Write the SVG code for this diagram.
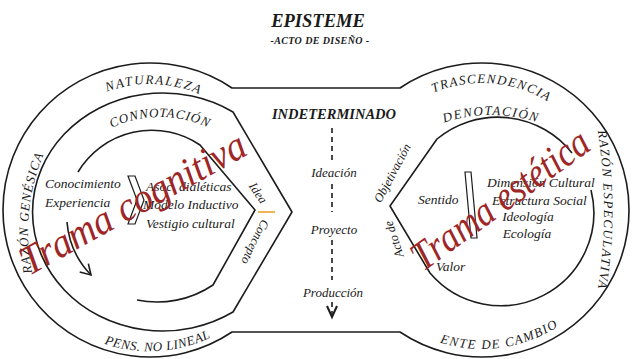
<svg xmlns="http://www.w3.org/2000/svg" width="632" height="359" viewBox="0 0 632 359">
<style>
.ln{fill:none;stroke:#1c1c1c;stroke-width:1.6;stroke-linejoin:round}
.t{font-family:"Liberation Serif","DejaVu Serif",serif;font-style:italic;fill:#1a1a1a}
.cap{font-size:13px}
.body{font-size:13.5px}
.rot{font-size:12.5px;text-anchor:middle}
.mid{font-size:13px;text-anchor:middle}
.red{font-family:"Liberation Serif","DejaVu Serif",serif;font-style:italic;fill:#9e2626;font-size:41px}
.dash{stroke:#1c1c1c;stroke-width:1.6;stroke-dasharray:5 4;fill:none}
</style>
<defs>
<path id="pNat" d="M 24 210 A 126 126 0 0 1 276 210"/>
<path id="pCon" d="M 45 232 A 115 115 0 0 1 275 232"/>
<path id="pGen" d="M 74.8 360.6 A 200 200 0 0 1 74.8 103.4"/>
<path id="pPen" d="M 17.4 258.2 A 141 141 0 0 0 282.6 258.2"/>
<path id="pTra" d="M 355 210 A 127 127 0 0 1 609 210"/>
<path id="pDen" d="M 341 265 A 150 150 0 0 1 641 265"/>
<path id="pEsp" d="M 587 80.6 A 500 500 0 0 1 587 339.4"/>
<path id="pEnt" d="M 351.4 257.5 A 139 139 0 0 0 618.9 234.1"/>
<marker id="arr" markerWidth="14" markerHeight="14" refX="0" refY="0" viewBox="-12 -7 14 14" orient="auto" markerUnits="userSpaceOnUse">
<path d="M -10 -6 L 0 0 L -10 6" fill="none" stroke="#1c1c1c" stroke-width="1.6"/>
</marker>
</defs>
<rect width="632" height="359" fill="#ffffff"/>

<g id="title">
<text class="t" x="318" y="27" font-size="18.5" font-weight="bold" text-anchor="middle">EPISTEME</text>
<text class="t" x="320" y="44" font-size="10" font-weight="bold" letter-spacing="0.4" text-anchor="middle">-ACTO DE DISEÑO -</text>
</g>

<g id="outline">
<path class="ln" d="M 232 88 L 400 88 A 147 147 0 1 1 400 332 L 232 332 A 147 147 0 1 1 232 88 Z"/>
<text class="t cap" letter-spacing="1.7"><textPath href="#pNat" startOffset="51%" text-anchor="middle">NATURALEZA</textPath></text>
<text class="t cap" letter-spacing="1.1"><textPath href="#pGen" startOffset="57%" text-anchor="middle">RAZÓN GENÉSICA</textPath></text>
<text class="t cap" letter-spacing="0.5"><textPath href="#pPen" startOffset="52.4%" text-anchor="middle">PENS. NO LINEAL</textPath></text>
<text class="t cap" letter-spacing="1.4"><textPath href="#pTra" startOffset="52.5%" text-anchor="middle">TRASCENDENCIA</textPath></text>
<text class="t cap" letter-spacing="1.4"><textPath href="#pEsp" startOffset="50%" text-anchor="middle">RAZÓN ESPECULATIVA</textPath></text>
<text class="t cap" letter-spacing="1.4"><textPath href="#pEnt" startOffset="52%" text-anchor="middle">ENTE DE CAMBIO</textPath></text>
</g>

<g id="left-middle">
<path class="ln" d="M 292 212 L 233 112 A 130 119 0 1 0 233 312 Z"/>
<text class="t cap" letter-spacing="0.9"><textPath href="#pCon" startOffset="50%" text-anchor="middle">CONNOTACIÓN</textPath></text>
<text class="t rot" transform="translate(258,193) rotate(56)" y="4">Idea</text>
<line x1="258" y1="212" x2="275" y2="212" stroke="#f0a030" stroke-width="1.6"/>
<text class="t rot" transform="translate(255,242) rotate(116)" y="4">Concepto</text>
</g>

<g id="left-inner">
<path class="ln" d="M 78 172 A 86 86 0 0 1 200 145 L 255 210 L 213 285 A 100 100 0 0 1 137 300"/>
<path class="ln" d="M 67 222 A 86 86 0 0 0 91 275" marker-end="url(#arr)"/>
<path d="M 128 176 L 135 176 L 144 200 L 135 224 L 128 224 L 137 200 Z" fill="#ffffff" stroke="#1c1c1c" stroke-width="1.2"/>
<text class="t body" x="45" y="188">Conocimiento</text>
<text class="t body" x="45" y="207">Experiencia</text>
<text class="t body" x="146" y="191">Asoc. dialéticas</text>
<text class="t body" x="143" y="209">Modelo Inductivo</text>
<text class="t body" x="146" y="228">Vestigio cultural</text>
</g>

<g id="right-inner">
<path class="ln" d="M 591 190 A 93 93 0 0 1 430 273 L 390 206 L 437 139 A 95 95 0 0 1 572 153"/>
<path d="M 465 172 L 471 172 L 477 238 L 471 238 Z" fill="#ffffff" stroke="#1c1c1c" stroke-width="1.2"/>
<text class="t cap" letter-spacing="1.5"><textPath href="#pDen" startOffset="50%" text-anchor="middle">DENOTACIÓN</textPath></text>
<text class="t rot" transform="translate(396,175) rotate(-62)">Objetivación</text>
<text class="t rot" transform="translate(398,238) rotate(-108)">Acto de</text>
<text class="t body" x="418" y="204">Sentido</text>
<text class="t body" x="436" y="271">Valor</text>
<text class="t body" x="487" y="187">Dimensión Cultural</text>
<text class="t body" x="492" y="205">Estructura Social</text>
<text class="t body" x="528" y="221" text-anchor="middle">Ideología</text>
<text class="t body" x="527" y="238" text-anchor="middle">Ecología</text>
</g>

<g id="center-column">
<text class="t" x="334" y="119" font-size="14.5" font-weight="bold" text-anchor="middle">INDETERMINADO</text>
<text class="t mid" x="334" y="177">Ideación</text>
<text class="t mid" x="334" y="234">Proyecto</text>
<text class="t mid" x="333" y="297">Producción</text>
</g>

<g id="connectors">
<line class="dash" x1="332" y1="128" x2="332" y2="160"/>
<line class="dash" x1="332" y1="184" x2="332" y2="212"/>
<line class="dash" x1="332" y1="240" x2="332" y2="280"/>
<line class="dash" x1="332" y1="302" x2="332" y2="314"/>
<path d="M 327 306 L 332 317 L 337 306" fill="none" stroke="#1c1c1c" stroke-width="2"/>
</g>

<g id="red-labels">
<text class="red" transform="translate(29,276) rotate(-29)" textLength="252" lengthAdjust="spacingAndGlyphs">Trama cognitiva</text>
<text class="red" transform="translate(423,272) rotate(-36)" textLength="210" lengthAdjust="spacingAndGlyphs">Trama estética</text>
</g>
</svg>
